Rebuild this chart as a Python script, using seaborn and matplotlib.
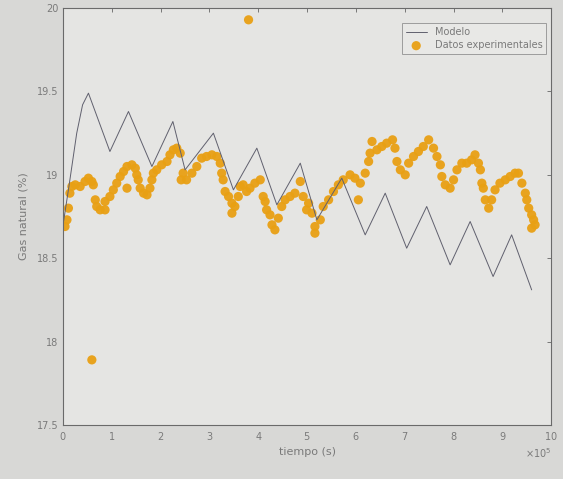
import numpy as np
import pandas as pd
import matplotlib
matplotlib.use("Agg")
import matplotlib.pyplot as plt
import seaborn as sns
from matplotlib.ticker import ScalarFormatter

# ---- data (time in units of 1e5 s) ----
model_t = [0.00, 0.12, 0.28, 0.40, 0.52, 0.96, 1.34, 1.82, 2.25, 2.50, 3.08, 3.49,
           3.97, 4.38, 4.86, 5.20, 5.71, 6.19, 6.60, 7.04, 7.45, 7.93, 8.34, 8.81,
           9.19, 9.60]
model_y = [18.70, 18.93, 19.25, 19.42, 19.49, 19.14, 19.38, 19.05, 19.32, 19.03, 19.25, 18.91,
           19.16, 18.82, 19.07, 18.73, 18.98, 18.64, 18.89, 18.56, 18.81, 18.46, 18.72, 18.39,
           18.64, 18.31]

exp_t = [0.04, 0.08, 0.11, 0.14, 0.18, 0.25, 0.35, 0.45, 0.52, 0.59, 0.62, 0.66, 0.69, 0.76,
         0.86, 0.86, 0.96, 1.03, 1.10, 1.17, 1.24, 1.31, 1.41, 1.48, 1.51, 1.54, 1.31, 1.58,
         1.65, 1.72, 1.78, 1.82, 1.85, 1.92, 2.02, 2.13, 2.19, 2.26, 2.33, 2.40, 2.42,
         2.46, 2.53, 2.64, 2.74, 2.84, 2.94, 3.05, 3.15, 3.22, 3.25, 3.28, 3.32, 3.39, 3.46,
         3.46, 3.52, 3.59, 3.63, 3.69, 3.76, 3.83, 3.93, 4.04, 4.10, 4.14, 4.17, 4.24, 4.28,
         4.34, 4.41, 4.48, 4.55, 4.65, 4.75, 4.86, 4.92, 4.99,
         5.03, 5.10, 5.16, 5.16, 5.27, 5.33, 5.44, 5.54, 5.64, 5.74, 5.88, 5.98, 6.09, 6.19,
         6.05, 6.26, 6.29, 6.33, 6.43, 6.53, 6.63, 6.75, 6.80, 6.84, 6.91, 7.01, 7.08, 7.18,
         7.28, 7.38, 7.49,
         7.59, 7.66, 7.73, 7.76, 7.83, 7.93, 8.00, 8.07, 8.17, 8.27, 8.37, 8.44, 8.51, 8.55,
         8.58, 8.61, 8.65, 8.72, 8.78, 8.85, 8.95, 9.06, 9.16, 9.26, 9.33, 9.40, 9.47, 9.50,
         9.54, 9.60, 9.60, 9.64, 9.67,
         3.80, 0.59]
exp_y = [18.69, 18.73, 18.80, 18.89, 18.93, 18.94, 18.93, 18.96, 18.98, 18.96, 18.94, 18.85,
         18.81, 18.79, 18.79, 18.84, 18.87, 18.91, 18.95, 18.99, 19.02, 19.05, 19.06, 19.04,
         19.00, 18.97, 18.92, 18.92, 18.89, 18.88, 18.92, 18.97, 19.01, 19.03, 19.06, 19.08,
         19.12, 19.15, 19.16, 19.13, 18.97,
         19.01, 18.97, 19.01, 19.05, 19.10, 19.11, 19.12, 19.11, 19.07, 19.01, 18.97, 18.90,
         18.87, 18.83, 18.77, 18.81, 18.87, 18.93, 18.94, 18.90, 18.92, 18.95, 18.97, 18.87,
         18.84, 18.79, 18.76, 18.70, 18.67, 18.74, 18.81, 18.85, 18.87, 18.89, 18.96, 18.87,
         18.79,
         18.83, 18.77, 18.69, 18.65, 18.73, 18.81, 18.85, 18.90, 18.94, 18.97, 19.00, 18.98,
         18.95, 19.01, 18.85, 19.08, 19.13, 19.20, 19.15, 19.17, 19.19, 19.21, 19.16, 19.08,
         19.03, 19.00, 19.07, 19.11, 19.14, 19.17, 19.21,
         19.16, 19.11, 19.06, 18.99, 18.94, 18.92, 18.97, 19.03, 19.07, 19.07, 19.09, 19.12,
         19.07, 19.03, 18.95, 18.92, 18.85, 18.80, 18.85, 18.91, 18.95, 18.97, 18.99, 19.01,
         19.01, 18.95, 18.89, 18.85, 18.80, 18.76, 18.68, 18.73, 18.70,
         19.93, 17.89]

x_ticks = [0, 1, 2, 3, 4, 5, 6, 7, 8, 9, 10]
y_ticks = [17.5, 18, 18.5, 19, 19.5, 20]

SCALE = 1e5
model_df = pd.DataFrame({"t": np.array(model_t) * SCALE, "y": model_y})
exp_df = pd.DataFrame({"t": np.array(exp_t) * SCALE, "y": exp_y})

sns.set_style("white")
plt.rcParams["font.family"] = ["DejaVu Sans"]

fig = plt.figure(figsize=(5.63, 4.79), dpi=100, facecolor="#d8d8d6")
ax = fig.add_axes([0.112, 0.113, 0.867, 0.870])
ax.set_facecolor("#e5e5e3")

txt = "#7a7a7a"
sns.lineplot(data=model_df, x="t", y="y", ax=ax, color="#60606e", lw=0.7,
             label="Modelo", sort=False)
sns.scatterplot(data=exp_df, x="t", y="y", ax=ax, color="#e9a014", s=44,
                edgecolor="none", alpha=0.95, label="Datos experimentales")

ax.set_xlim(0, 10 * SCALE)
ax.set_ylim(17.5, 20)
ax.set_xticks(np.array(x_ticks) * SCALE)
ax.set_yticks(y_ticks)
ax.set_yticklabels([f"{v:g}" for v in y_ticks])
fmt = ScalarFormatter(useMathText=True)
fmt.set_powerlimits((5, 5))
ax.xaxis.set_major_formatter(fmt)
ax.xaxis.get_offset_text().set_color(txt)
ax.xaxis.get_offset_text().set_fontsize(7)

ax.tick_params(direction="in", length=3, width=0.6, colors="#666666",
               labelcolor=txt, labelsize=7, top=True, right=True)
for sp in ax.spines.values():
    sp.set_color("#6a6a6a")
    sp.set_linewidth(0.8)

ax.set_xlabel("tiempo (s)", color=txt, fontsize=8, labelpad=4)
ax.set_ylabel("Gas natural (%)", color=txt, fontsize=8, labelpad=6)

leg = ax.legend(loc="upper right", fontsize=7, frameon=True, fancybox=False,
                borderpad=0.4, labelspacing=0.3, handlelength=2.2,
                bbox_to_anchor=(1.0, 0.975))
leg.get_frame().set_edgecolor("#8a8a8a")
leg.get_frame().set_facecolor("#e9e9e7")
leg.get_frame().set_linewidth(0.7)
for t in leg.get_texts():
    t.set_color(txt)

fig.savefig("out.png", dpi=100, facecolor=fig.get_facecolor())
